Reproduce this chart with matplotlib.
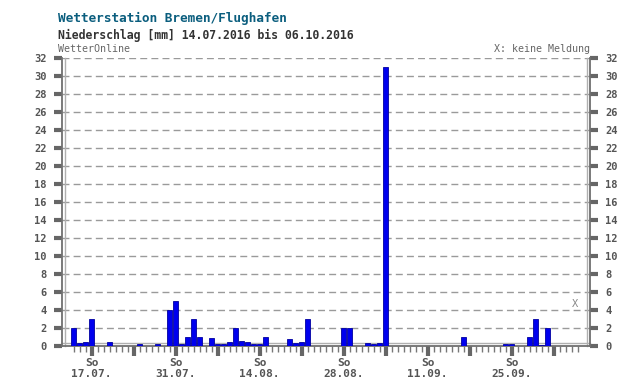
import numpy as np
import pandas as pd
import matplotlib
matplotlib.use("Agg")
import matplotlib.pyplot as plt
import matplotlib.transforms as mtransforms

# daily precipitation [mm], 14.07.2016 .. 06.10.2016 (None = keine Meldung)
start = "2016-07-14"
precip = [
    2.0, 0.3, 0.5, 3.0, 0.0, 0.0, 0.5,      # 14.07.-20.07.
    0.0, 0.0, 0.0, 0.0, 0.2, 0.0, 0.0,      # 21.07.-27.07.
    0.2, 0.0, 4.0, 5.0, 0.2, 1.0, 3.0,      # 28.07.-03.08.
    1.0, 0.0, 0.9, 0.2, 0.2, 0.5, 2.0,      # 04.08.-10.08.
    0.6, 0.5, 0.2, 0.2, 1.0, 0.0, 0.0,      # 11.08.-17.08.
    0.0, 0.8, 0.3, 0.4, 3.0, 0.0, 0.0,      # 18.08.-24.08.
    0.0, 0.0, 0.0, 2.0, 2.0, 0.0, 0.0,      # 25.08.-31.08.
    0.3, 0.2, 0.3, 31.0, 0.0, 0.0, 0.0,     # 01.09.-07.09.
    0.0, 0.0, 0.0, 0.0, 0.0, 0.0, 0.0,      # 08.09.-14.09.
    0.0, 0.0, 1.0, 0.0, 0.0, 0.0, 0.0,      # 15.09.-21.09.
    0.0, 0.0, 0.2, 0.2, 0.0, 0.0, 1.0,      # 22.09.-28.09.
    3.0, 0.1, 2.0, 0.0, 0.0, 0.0, 0.0,      # 29.09.-05.10.
    None,                                   # 06.10.
]
dates = pd.date_range(start, periods=len(precip), freq="D")

title = "Wetterstation Bremen/Flughafen"
subtitle = "Niederschlag [mm] 14.07.2016 bis 06.10.2016"
y_ticks = list(range(0, 33, 2))

mono = "DejaVu Sans Mono"

fig = plt.figure(figsize=(6.3, 3.86), dpi=100)
ax = fig.add_axes([62 / 630, 40 / 386, 528 / 630, 288 / 386])

x = np.arange(len(dates))
vals = np.array([np.nan if v is None else v for v in precip])
has_rain = np.nan_to_num(vals) > 0
ax.bar(x[has_rain], vals[has_rain], width=0.82, color="#0000ee",
       edgecolor="#0000a0", linewidth=0.6, zorder=3)

# missing reports
for xi in x[np.isnan(vals)]:
    ax.text(xi - 0.4, 4.7, "X", ha="center", va="center", color="#888888",
            fontsize=7.5, family=mono)

ax.set_xlim(-1.92, len(dates) + 1.08)
ax.set_ylim(0, 32)

# grid
for yv in y_ticks[1:]:
    ax.axhline(yv, color="#9a9a9a", lw=1, ls=(0, (5, 3)), zorder=1)

# y axis on both sides
ax.set_yticks(y_ticks)
ax.tick_params(axis="y", which="both", length=6, width=3, color="#666666",
               labelsize=7.5, labelcolor="#555555", pad=5,
               left=True, right=True, labelleft=True, labelright=True)

# x axis: daily minor ticks, weekly (Sunday) major ticks
sundays = [i for i, d in enumerate(dates) if d.dayofweek == 6]
labels = []
for k, i in enumerate(sundays):
    labels.append("So\n" + dates[i].strftime("%d.%m.") if k % 2 == 0 else "")
ax.set_xticks(x, minor=True)
ax.set_xticks(sundays)
ax.set_xticklabels(labels, linespacing=1.05)
ax.tick_params(axis="x", which="minor", length=4, width=1, color="#777777")
ax.tick_params(axis="x", which="major", length=7, width=3, color="#666666",
               labelsize=8, labelcolor="#555555", pad=2)

for lab in ax.get_xticklabels() + ax.get_yticklabels():
    lab.set_family(mono)
    lab.set_fontweight("bold")
for t in ax.yaxis.get_major_ticks():
    t.label2.set_family(mono)
    t.label2.set_fontweight("bold")
    t.label2.set_color("#555555")

# double frame line: dark outer spine + light inner line
ax.spines["top"].set_visible(False)
for s in ("left", "right", "bottom"):
    ax.spines[s].set_color("#707070")
    ax.spines[s].set_linewidth(1.3)
px = 2 / 72
inner = dict(color="#b0b0b0", lw=1, zorder=2, clip_on=False)
ax.plot([0, 0], [0, 1], transform=ax.transAxes + mtransforms.ScaledTranslation(px, 0, fig.dpi_scale_trans), **inner)
ax.plot([1, 1], [0, 1], transform=ax.transAxes + mtransforms.ScaledTranslation(-px, 0, fig.dpi_scale_trans), **inner)
ax.plot([0, 1], [0, 0], transform=ax.transAxes + mtransforms.ScaledTranslation(0, px, fig.dpi_scale_trans), **inner)

fig.text(58 / 630, 1 - 18 / 386, title, family=mono, fontweight="bold",
         fontsize=9.2, color="#0b5e7e", va="center")
fig.text(58 / 630, 1 - 35 / 386, subtitle, family=mono, fontweight="bold",
         fontsize=8.3, color="#333333", va="center")
fig.text(58 / 630, 1 - 49 / 386, "WetterOnline", family=mono,
         fontsize=7.2, color="#666666", va="center")
fig.text(590 / 630, 1 - 49 / 386, "X: keine Meldung", family=mono,
         fontsize=7.2, color="#666666", va="center", ha="right")

fig.savefig("out.png", dpi=100)
